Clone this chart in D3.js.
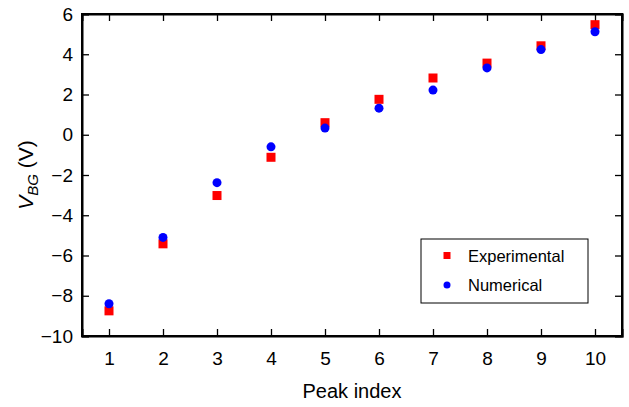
<!DOCTYPE html>
<html>
<head>
<meta charset="utf-8">
<script src="https://cdn.jsdelivr.net/npm/d3@7"></script>
<style>
  body { margin: 0; background: #fff; }
  svg text { font-family: "Liberation Sans", Arial, sans-serif; fill: #000; }
</style>
</head>
<body>
<div id="chart"></div>
<script>
// peak positions
const peaks = [1, 2, 3, 4, 5, 6, 7, 8, 9, 10];
const experimental = [-8.75, -5.42, -3.02, -1.12, 0.6, 1.76, 2.82, 3.56, 4.42, 5.47];
const numerical = [-8.4, -5.1, -2.38, -0.6, 0.33, 1.32, 2.22, 3.32, 4.23, 5.12];
const yTicks = [-10, -8, -6, -4, -2, 0, 2, 4, 6];

const width = 629, height = 407;
const margin = {top: 14, right: 7, bottom: 71, left: 82};

const svg = d3.select("#chart")
    .append("svg")
    .attr("width", width)
    .attr("height", height);

const x = d3.scaleLinear().domain([0.5, 10.5]).range([margin.left, width - margin.right]);
const y = d3.scaleLinear().domain([-10, 6]).range([height - margin.bottom, margin.top]);

const tickLen = 7;

// bottom axis with inner ticks
const gx = svg.append("g")
    .attr("transform", "translate(0," + y(-10) + ")")
    .call(d3.axisBottom(x).tickValues(peaks).tickSize(-tickLen).tickPadding(16).tickFormat(d3.format("d")));
gx.selectAll("text").style("font-size", "19px");

// top axis (ticks only)
svg.append("g")
    .attr("transform", "translate(0," + y(6) + ")")
    .call(d3.axisTop(x).tickValues(peaks).tickSize(-tickLen).tickFormat(""));

// left axis
const gy = svg.append("g")
    .attr("transform", "translate(" + x(0.5) + ",0)")
    .call(d3.axisLeft(y).tickValues(yTicks).tickSize(-tickLen).tickPadding(9)
        .tickFormat(d => d < 0 ? "\u2212" + Math.abs(d) : d));
gy.selectAll("text").style("font-size", "19px");

// right axis (ticks only)
svg.append("g")
    .attr("transform", "translate(" + x(10.5) + ",0)")
    .call(d3.axisRight(y).tickValues(yTicks).tickSize(-tickLen).tickFormat(""));

svg.selectAll(".domain").attr("stroke", "#000").attr("stroke-width", 2);
svg.selectAll(".tick line").attr("stroke", "#000").attr("stroke-width", 1.3);

// frame
svg.append("rect")
    .attr("x", x(0.5)).attr("y", y(6))
    .attr("width", x(10.5) - x(0.5)).attr("height", y(-10) - y(6))
    .attr("fill", "none").attr("stroke", "#000").attr("stroke-width", 2);

// experimental: red squares
const sq = 9;
svg.append("g").selectAll("rect")
    .data(peaks)
    .enter()
    .append("rect")
    .attr("x", (d) => x(d) - sq / 2)
    .attr("y", (d, i) => y(experimental[i]) - sq / 2)
    .attr("width", sq).attr("height", sq)
    .attr("fill", "#ff0000");

// numerical: blue dots
svg.append("g").selectAll("circle")
    .data(peaks)
    .enter()
    .append("circle")
    .attr("cx", (d) => x(d))
    .attr("cy", (d, i) => y(numerical[i]))
    .attr("r", 4.5)
    .attr("fill", "#0000ff");

// axis titles
svg.append("text")
    .attr("x", (x(0.5) + x(10.5)) / 2)
    .attr("y", 398)
    .attr("text-anchor", "middle")
    .style("font-size", "20px")
    .text("Peak index");

const yl = svg.append("text")
    .attr("transform", "translate(33," + ((y(6) + y(-10)) / 2) + ") rotate(-90)")
    .attr("text-anchor", "middle")
    .style("font-size", "21px");
yl.append("tspan").style("font-style", "italic").text("V");
yl.append("tspan").style("font-style", "italic").style("font-size", "15px").attr("dy", 5).text("BG");
yl.append("tspan").attr("dy", -5).text(" (V)");

// legend
const lg = svg.append("g").attr("transform", "translate(421,239)");
lg.append("rect")
    .attr("width", 167).attr("height", 64)
    .attr("fill", "#fff").attr("stroke", "#000").attr("stroke-width", 1);
lg.append("rect").attr("x", 22.5).attr("y", 13).attr("width", 7).attr("height", 7).attr("fill", "#ff0000");
lg.append("circle").attr("cx", 26).attr("cy", 46).attr("r", 3.5).attr("fill", "#0000ff");
lg.append("text").attr("x", 47).attr("y", 23).style("font-size", "16.5px").text("Experimental");
lg.append("text").attr("x", 47).attr("y", 52).style("font-size", "16.5px").text("Numerical");
</script>
</body>
</html>
